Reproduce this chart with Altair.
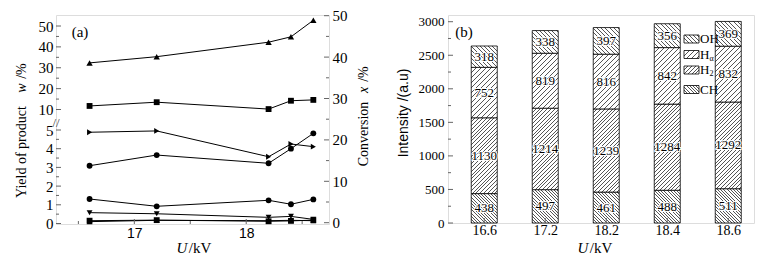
import altair as alt
import pandas as pd

# ---------------- panel (a) data ----------------
U_kv = [16.6, 17.2, 18.2, 18.4, 18.6]
conversion = [38.6, 40.1, 43.6, 44.9, 48.9]            # right axis, triangle-up
yield_square_up = [11.7, 13.5, 10.2, 14.2, 14.6]       # upper left axis
yield_tri_right = [4.88, 4.95, 3.57, 4.25, 4.11]
yield_circle_a = [3.09, 3.66, 3.22, 4.00, 4.82]
yield_circle_b = [1.31, 0.92, 1.24, 1.03, 1.29]
yield_tri_down = [0.58, 0.52, 0.33, 0.38, 0.22]
yield_square_low = [0.15, 0.18, 0.12, 0.14, 0.18]
yield_tri_low = [0.10, 0.17, 0.15, 0.17, 0.15]

x_major = [17, 18]
x_minor = [16.5, 17.5, 18.5]
low_major = [0, 1, 2, 3, 4, 5]
low_minor = [0.5, 1.5, 2.5, 3.5, 4.5]
up_major = [10, 20, 30, 40, 50]
up_minor = [15, 25, 35, 45]
conv_major = [0, 10, 20, 30, 40, 50]
conv_minor = [5, 15, 25, 35, 45]

# ---------------- panel (b) data ----------------
U_labels = ["16.6", "17.2", "18.2", "18.4", "18.6"]
species = ["CH", "H2", "Ha", "OH"]          # bottom -> top
I_CH = [438, 497, 461, 488, 511]
I_H2 = [1130, 1214, 1239, 1284, 1292]
I_Ha = [752, 819, 816, 842, 832]
I_OH = [318, 338, 397, 356, 369]
b_major = [0, 500, 1000, 1500, 2000, 2500, 3000]
b_minor = [250, 750, 1250, 1750, 2250, 2750]

SERIF = "Liberation Serif"
SANS = "Liberation Sans"
AX = "#666666"

# ================= panel (a) =================
W1, H1 = 273, 209
xsc = alt.Scale(domain=[16.3, 18.74], nice=False, zero=False)
xax = alt.Axis(values=x_major, format="d", labelFont=SANS, labelFontSize=14, labelColor="black",
               ticks=False, domain=False, grid=False, title=None, labelPadding=2)


def X(field):
    return alt.X(field, type="quantitative", scale=xsc, axis=xax)


lowY = alt.Scale(domain=[0, 5], range=[208.5, 115], nice=False, zero=False)
upY = alt.Scale(domain=[10, 50], range=[94.5, 11], nice=False, zero=False)
convY = alt.Scale(domain=[0, 50], range=[207.7, 0.7], nice=False, zero=False)


def yaxis(vals, orient):
    return alt.Axis(values=vals, orient=orient, labelFont=SERIF, labelFontSize=15, labelColor="black",
                    ticks=False, domain=False, grid=False, title=None, labelPadding=3, labelFlush=False)


lowAx = yaxis(low_major, "left")
upAx = yaxis(up_major, "left")
convAx = yaxis(conv_major, "right")

low_names = ["tri_right", "circle_a", "circle_b", "tri_down", "square_low", "tri_low"]
low_vals = [yield_tri_right, yield_circle_a, yield_circle_b, yield_tri_down, yield_square_low, yield_tri_low]
low_shapes = ["triangle-right", "circle", "circle", "triangle-down", "square", "triangle-up"]
rows = []
for n, vals in zip(low_names, low_vals):
    for u, v in zip(U_kv, vals):
        rows.append({"series": n, "U": u, "val": v})
df_low = pd.DataFrame(rows)
df_up = pd.DataFrame({"U": U_kv, "val": yield_square_up})
df_conv = pd.DataFrame({"U": U_kv, "val": conversion})


def tick_rules(vals, ysc, yax, x0, x1):
    return alt.Chart(pd.DataFrame({"v": vals})).mark_rule(color=AX, strokeWidth=1).encode(
        y=alt.Y("v:Q", scale=ysc, axis=yax), x=alt.value(x0), x2=alt.value(x1))


low_line = alt.Chart(df_low).mark_line(color="black", strokeWidth=1).encode(
    x=X("U"), y=alt.Y("val:Q", scale=lowY, axis=lowAx), detail="series:N")
low_pts = alt.Chart(df_low).mark_point(filled=True, color="black", opacity=1, size=34).encode(
    x=X("U"), y=alt.Y("val:Q", scale=lowY, axis=lowAx),
    shape=alt.Shape("series:N", scale=alt.Scale(domain=low_names, range=low_shapes), legend=None))
xt_major = alt.Chart(pd.DataFrame({"v": x_major})).mark_rule(color=AX).encode(
    x=X("v"), y=alt.value(H1), y2=alt.value(H1 - 5))
xt_minor = alt.Chart(pd.DataFrame({"v": x_minor})).mark_rule(color=AX).encode(
    x=X("v"), y=alt.value(H1), y2=alt.value(H1 - 3))
low_group = alt.layer(low_line, low_pts,
                      tick_rules(low_major, lowY, lowAx, 0, 5),
                      tick_rules(low_minor, lowY, lowAx, 0, 3),
                      xt_major, xt_minor)

up_line = alt.Chart(df_up).mark_line(color="black", strokeWidth=1).encode(
    x=X("U"), y=alt.Y("val:Q", scale=upY, axis=upAx))
up_pts = alt.Chart(df_up).mark_point(filled=True, color="black", opacity=1, size=34, shape="square").encode(
    x=X("U"), y=alt.Y("val:Q", scale=upY, axis=upAx))
up_group = alt.layer(up_line, up_pts,
                     tick_rules(up_major, upY, upAx, 0, 5),
                     tick_rules(up_minor, upY, upAx, 0, 3))

conv_line = alt.Chart(df_conv).mark_line(color="black", strokeWidth=1).encode(
    x=X("U"), y=alt.Y("val:Q", scale=convY, axis=convAx))
conv_pts = alt.Chart(df_conv).mark_point(filled=True, color="black", opacity=1, size=40, shape="triangle-up").encode(
    x=X("U"), y=alt.Y("val:Q", scale=convY, axis=convAx))
conv_group = alt.layer(conv_line, conv_pts,
                       tick_rules(conv_major, convY, convAx, W1, W1 - 5),
                       tick_rules(conv_minor, convY, convAx, W1, W1 - 3))


def label(text, x, y, size=14, font=SERIF, angle=0, style="normal", align="center", color="black"):
    return alt.Chart(pd.DataFrame({"t": [text]})).mark_text(
        font=font, fontSize=size, angle=angle, fontStyle=style, align=align, baseline="middle", color=color
    ).encode(text="t:N", x=alt.value(x), y=alt.value(y))


texts_a = [
    label("Yield of product", -34, 137, angle=270),
    label("w", -34, 73, angle=270, style="italic"),
    label("/%", -34, 56, angle=270),
    label("Conversion", 308, 119, angle=270),
    label("x", 308, 75, angle=270, style="italic"),
    label("/%", 308, 59, angle=270),
    label("U", 126, 233, size=15, style="italic"),
    label("/kV", 144, 233, size=15),
    label("(a)", 24, 17, size=15),
    label("//", 0, 108, size=13, color="#444"),
]

left = alt.layer(low_group, up_group, conv_group, *texts_a).resolve_scale(
    y="independent").properties(width=W1, height=H1)

# ================= panel (b) =================
W2, H2 = 306, 208
YMAX = 3100
BAR_W = 26
K = H2 / YMAX

xsc_b = alt.Scale(domain=[-0.512, 4.34], nice=False, zero=False)
label_arr = "[" + ",".join("'%s'" % s for s in U_labels) + "]"
xax_b = alt.Axis(values=list(range(len(U_labels))), labelExpr=label_arr + "[datum.value]",
                 labelFont=SERIF, labelFontSize=14, labelColor="black", ticks=False, domain=False,
                 grid=False, title=None, labelPadding=0)
ysc_b = alt.Scale(domain=[0, YMAX], nice=False, zero=True)
yax_b = alt.Axis(values=b_major, format="d", labelFont=SERIF, labelFontSize=13, labelColor="black", ticks=False,
                 domain=False, grid=False, title=None, labelPadding=4)

rows = []
for o, (sp, vals) in enumerate(zip(species, [I_CH, I_H2, I_Ha, I_OH])):
    for i, v in enumerate(vals):
        rows.append({"i": i, "species": sp, "order": o, "value": v})
df_b = pd.DataFrame(rows)

# hatch pattern of each species: direction and stripe spacing
hatch = {"CH": ("\\", 3.2), "H2": ("/", 3.8), "Ha": ("/", 5.0), "OH": ("\\", 4.2)}
L = 140.0
LINE_W = 1.0
HATCH_C = "#555555"


def stops_list(period):
    st = []
    c = 0.0
    while c < L:
        a, b, e = c / L, min((c + LINE_W) / L, 1), min((c + period) / L, 1)
        st += [(a, HATCH_C), (b, HATCH_C), (b, "#ffffff"), (e, "#ffffff")]
        c += period
    return st


def grad_expr(direction, period, h, w):
    st = ",".join("{offset:%.5f,color:'%s'}" % s for s in stops_list(period))
    den = "(%s*%s+(%s)*(%s))" % (w, w, h, h)
    if direction == "/":
        return "{gradient:'linear',x1:0,y1:0,x2:%s*%s/%s,y2:%s*(%s)/%s,stops:[%s]}" % (L, w, den, L, h, den, st)
    return "{gradient:'linear',x1:0,y1:1,x2:%s*%s/%s,y2:1-%s*(%s)/%s,stops:[%s]}" % (L, w, den, L, h, den, st)


def grad_value(direction, period, h, w):
    den = w * w + h * h
    st = [alt.GradientStop(offset=o, color=c) for o, c in stops_list(period)]
    if direction == "/":
        return alt.LinearGradient(gradient="linear", x1=0, y1=0, x2=L * w / den, y2=L * h / den, stops=st)
    return alt.LinearGradient(gradient="linear", x1=0, y1=1, x2=L * w / den, y2=1 - L * h / den, stops=st)


base_b = alt.Chart(df_b).transform_stack(
    stack="value", groupby=["i"], as_=["v0", "v1"], sort=[alt.SortField("order", "ascending")]
).transform_calculate(mid="(datum.v0 + datum.v1) / 2")

bar_layers = []
for sp in species:
    d, p = hatch[sp]
    expr = grad_expr(d, p, "datum.value*%f" % K, BAR_W)
    bar_layers.append(
        base_b.transform_filter(alt.datum.species == sp).transform_calculate(grad=expr)
        .mark_bar(width=BAR_W, stroke="black", strokeWidth=0.8)
        .encode(x=alt.X("i:Q", scale=xsc_b, axis=xax_b),
                y=alt.Y("v0:Q", scale=ysc_b, axis=yax_b), y2="v1:Q",
                fill=alt.Fill("grad:N", scale=None, legend=None))
    )

bar_text_halo = base_b.mark_text(font=SERIF, fontSize=13, color="white", stroke="white", strokeWidth=2,
                                 baseline="middle").encode(
    x=alt.X("i:Q", scale=xsc_b, axis=xax_b), y=alt.Y("mid:Q", scale=ysc_b, axis=yax_b), text="value:Q")
bar_text = base_b.mark_text(font=SERIF, fontSize=13, color="black", baseline="middle").encode(
    x=alt.X("i:Q", scale=xsc_b, axis=xax_b), y=alt.Y("mid:Q", scale=ysc_b, axis=yax_b), text="value:Q")

bt_x = alt.Chart(pd.DataFrame({"v": list(range(len(U_labels)))})).mark_rule(color=AX).encode(
    x=alt.X("v:Q", scale=xsc_b, axis=xax_b), y=alt.value(H2), y2=alt.value(H2 - 5))
bt_ymaj = alt.Chart(pd.DataFrame({"v": b_major})).mark_rule(color=AX).encode(
    y=alt.Y("v:Q", scale=ysc_b, axis=yax_b), x=alt.value(0), x2=alt.value(5))
bt_ymin = alt.Chart(pd.DataFrame({"v": b_minor})).mark_rule(color=AX).encode(
    y=alt.Y("v:Q", scale=ysc_b, axis=yax_b), x=alt.value(0), x2=alt.value(3))

# legend (top -> bottom)
legend_rows = [("OH", 24), ("Ha", 39.5), ("H2", 55), ("CH", 74.5)]
leg_layers = []
for sp, yc in legend_rows:
    d, p = hatch[sp]
    leg_layers.append(
        alt.Chart(pd.DataFrame({"s": [sp]})).mark_rect(
            fill=grad_value(d, p, 8.0, 15.0), stroke="black", strokeWidth=0.8
        ).encode(x=alt.value(236), x2=alt.value(251), y=alt.value(yc - 4), y2=alt.value(yc + 4))
    )
leg_text = [
    label("OH", 252, 24, size=13, align="left"),
    label("H", 252, 39.5, size=13, align="left"),
    label("α", 261.5, 43.5, size=8, align="left"),
    label("H", 252, 55, size=13, align="left"),
    label("2", 261.5, 59, size=8, align="left"),
    label("CH", 252, 74.5, size=13, align="left"),
]

texts_b = [
    label("Intensity /(a.u)", -44, 98, font=SANS, size=14, angle=270),
    label("U", 135, 233, size=15, style="italic"),
    label("/kV", 153, 233, size=15),
    label("(b)", 16, 17, size=15),
]

right = alt.layer(*bar_layers, bar_text_halo, bar_text, bt_x, bt_ymaj, bt_ymin, *leg_layers, *leg_text,
                  *texts_b).properties(width=W2, height=H2)

chart = alt.hconcat(left, right, spacing=119, bounds="flush").properties(
    padding={"left": 6, "top": 0, "right": 5, "bottom": 0}
).configure_view(stroke="#777777", strokeWidth=1).configure(background="white")

chart.save("out.html", embed_options={"renderer": "svg", "actions": False})
